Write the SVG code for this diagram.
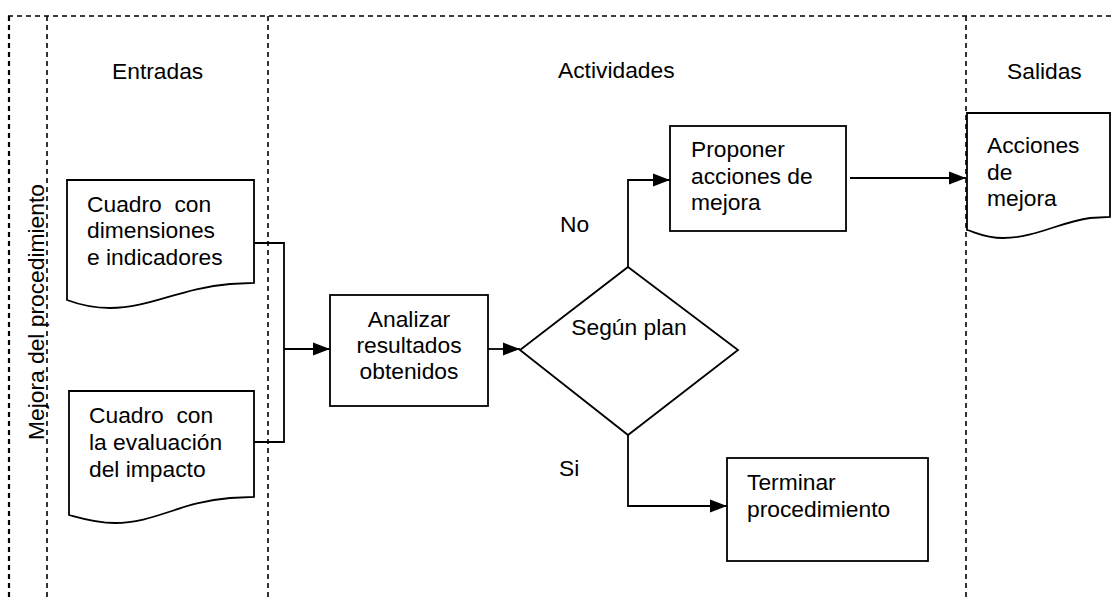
<svg xmlns="http://www.w3.org/2000/svg" width="1112" height="601" viewBox="0 0 1112 601">
<style>
text{font-family:"Liberation Sans",Arial,sans-serif;font-size:22.8px;fill:#000;white-space:pre}
.dash{stroke:#000;stroke-width:1.6;stroke-dasharray:5 4;fill:none}
.shape{fill:#fff;stroke:#000;stroke-width:1.8}
.conn{fill:none;stroke:#000;stroke-width:1.8}
.mid{text-anchor:middle}
</style>
<rect width="1112" height="601" fill="#fff"/>
<g id="lanes">
<line class="dash" x1="8" y1="16" x2="1112" y2="16"/>
<line class="dash" x1="9" y1="16" x2="9" y2="601" style="stroke-width:2.2"/>
<line class="dash" x1="47" y1="16" x2="47" y2="601"/>
<line class="dash" x1="268" y1="16" x2="268" y2="601"/>
<line class="dash" x1="966" y1="16" x2="966" y2="601"/>
<text x="112" y="79">Entradas</text>
<text x="558" y="78">Actividades</text>
<text x="1007" y="79">Salidas</text>
<text transform="translate(44,440) rotate(-90)">Mejora del procedimiento</text>
</g>
<g id="connectors">
<polyline class="conn" points="254,243 284,243 284,442 254,442"/>
<line class="conn" x1="284" y1="349" x2="330" y2="349"/>
<path d="M313,342.5 L330,349 L313,355.5 z"/>
<line class="conn" x1="488" y1="349" x2="520" y2="349"/>
<path d="M503,342.5 L520,349 L503,355.5 z"/>
<polyline class="conn" points="628,267 628,180 670,180"/>
<path d="M653,173.5 L670,180 L653,186.5 z"/>
<line class="conn" x1="850" y1="178" x2="966" y2="178"/>
<path d="M949,171.5 L966,178 L949,184.5 z"/>
<polyline class="conn" points="628,435 628,506 727,506"/>
<path d="M710,499.5 L727,506 L710,512.5 z"/>
<text x="560" y="232">No</text>
<text x="559" y="476">Si</text>
</g>
<g id="doc-cuadro-dimensiones">
<path class="shape" d="M67,180 L254,180 L254,283 L230,284 C180,288 150,308 110,308 C90,308 75,303 67,300 Z"/>
<text x="87" y="212">Cuadro  con</text>
<text x="87" y="238">dimensiones</text>
<text x="87" y="265">e indicadores</text>
</g>
<g id="doc-cuadro-evaluacion">
<path class="shape" d="M69,391 L254,391 L254,497 L230,498 C180,502 155,523 115,523 C95,523 80,518 69,515 Z"/>
<text x="89" y="423">Cuadro  con</text>
<text x="89" y="450">la evaluación</text>
<text x="89" y="477">del impacto</text>
</g>
<g id="analizar">
<rect class="shape" x="330" y="295" width="158" height="111"/>
<text class="mid" x="409" y="327">Analizar</text>
<text class="mid" x="409" y="353">resultados</text>
<text class="mid" x="409" y="379">obtenidos</text>
</g>
<g id="segun-plan">
<polygon class="shape" points="628,267 738,350 628,435 520,350"/>
<text class="mid" x="629" y="335">Según plan</text>
</g>
<g id="proponer">
<rect class="shape" x="670" y="126" width="176" height="105"/>
<text x="691" y="157">Proponer</text>
<text x="691" y="184">acciones de</text>
<text x="691" y="210">mejora</text>
</g>
<g id="acciones-mejora">
<path class="shape" d="M967,113 L1110,113 L1110,217 L1090,218 C1060,222 1035,238 1003,238 C985,238 975,232 967,230 Z"/>
<text x="987" y="153">Acciones</text>
<text x="987" y="180">de</text>
<text x="987" y="206">mejora</text>
</g>
<g id="terminar">
<rect class="shape" x="727" y="458" width="201" height="103"/>
<text x="747" y="490">Terminar</text>
<text x="747" y="517">procedimiento</text>
</g>
</svg>
